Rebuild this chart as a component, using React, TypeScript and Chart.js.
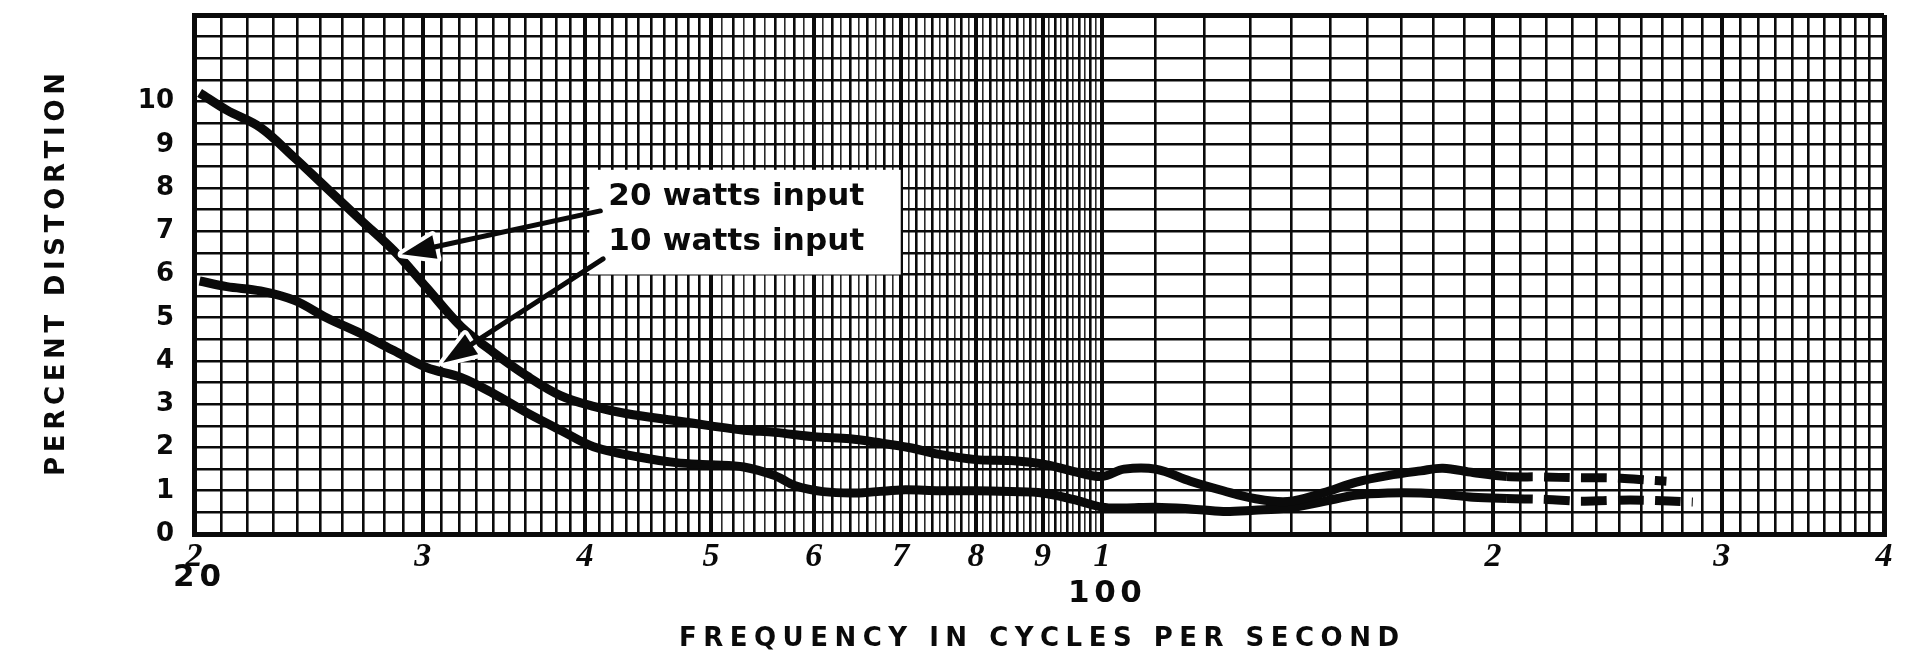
import React, { useEffect, useRef } from "react";
import { Chart, registerables } from "chart.js";

Chart.register(...registerables);

const W = 1922;
const H = 659;

// 20 watts input curve (frequency in c/s, percent distortion)
const freq20 = [20.2, 21.2, 22.5, 23.9, 25.3, 26.9, 28.5, 30.2, 32.1, 34.0, 36.1, 38.3, 40.6, 43.1, 47, 50, 53, 56, 60, 64, 67, 71, 75, 80, 85, 90, 95, 100, 104, 110, 117, 124, 131, 139, 148, 157, 166, 176, 183, 193, 205, 217, 233, 247, 262, 272];
const dist20 = [10.2, 9.8, 9.4, 8.7, 8.0, 7.25, 6.55, 5.7, 4.8, 4.2, 3.65, 3.2, 2.95, 2.78, 2.62, 2.5, 2.4, 2.35, 2.25, 2.2, 2.12, 2.0, 1.84, 1.72, 1.7, 1.62, 1.45, 1.33, 1.5, 1.5, 1.22, 1.0, 0.82, 0.75, 0.95, 1.2, 1.35, 1.46, 1.52, 1.42, 1.33, 1.32, 1.3, 1.3, 1.25, 1.22];

// 10 watts input curve
const freq10 = [20.2, 21.2, 22.5, 23.9, 25.3, 26.9, 28.5, 30.2, 32.1, 34.0, 36.1, 38.3, 40.6, 44, 47, 50, 53, 56, 58, 61, 65, 70, 75, 80, 85, 90, 95, 100, 104, 110, 117, 124, 131, 139, 148, 157, 166, 176, 183, 193, 205, 220, 233, 247, 262, 285];
const dist10 = [5.85, 5.72, 5.62, 5.4, 5.0, 4.63, 4.24, 3.85, 3.62, 3.25, 2.8, 2.4, 2.02, 1.78, 1.65, 1.6, 1.55, 1.35, 1.12, 0.98, 0.95, 1.02, 1.0, 1.0, 0.98, 0.95, 0.8, 0.62, 0.6, 0.62, 0.58, 0.52, 0.55, 0.6, 0.75, 0.9, 0.95, 0.95, 0.92, 0.85, 0.82, 0.8, 0.76, 0.78, 0.78, 0.74];

// frequency above which the curves are drawn dashed
const dashedFrom = 200;

// axis tick labels
const xMajor = [20, 30, 40, 50, 60, 70, 80, 90, 100, 200, 300, 400];
const xMajorLabels = ["2", "3", "4", "5", "6", "7", "8", "9", "1", "2", "3", "4"];
const decadeValues = [20, 100];
const decadeTexts = ["20", "100"];
const yLabelValues = [0, 1, 2, 3, 4, 5, 6, 7, 8, 9, 10];
const yLabels = ["0", "1", "2", "3", "4", "5", "6", "7", "8", "9", "10"];

const xTitle = "FREQUENCY IN CYCLES PER SECOND";
const yTitle = "PERCENT DISTORTION";

// legend box (data coordinates) and texts
const legendTexts = ["20 watts input", "10 watts input"];
const legendBoxF = [40.3, 70];
const legendBoxV = [6.0, 8.42];
const legendTextF = 52.3;
const legendTextV = [7.79, 6.75];
// arrows: [tailF, tailV, tipF, tipV]
const arrow20 = [41.1, 7.47, 28.9, 6.47];
const arrow10 = [41.3, 6.36, 31.1, 3.96];

// graph-paper rulings
const xGrid: number[] = [];
for (let f = 20; f < 50; f += 1) xGrid.push(f);
for (let f = 50; f < 100; f += 1) xGrid.push(f);
for (let f = 100; f <= 400; f += 10) xGrid.push(f);
const yGrid: number[] = [];
for (let i = 0; i <= 24; i++) yGrid.push(i * 0.5);

const INK = "#0a0a0a";
const SANS = '"DejaVu Sans", "Liberation Sans", sans-serif';

function drawSpaced(ctx: CanvasRenderingContext2D, text: string, cx: number, cy: number, target: number, font: string) {
  ctx.font = font;
  const chars = Array.from(text);
  const widths = chars.map((c) => ctx.measureText(c).width);
  const total = widths.reduce((a, b) => a + b, 0);
  const gap = chars.length > 1 ? (target - total) / (chars.length - 1) : 0;
  let x = cx - target / 2;
  ctx.textAlign = "left";
  ctx.textBaseline = "middle";
  chars.forEach((c, i) => {
    ctx.fillText(c, x, cy);
    x += widths[i] + gap;
  });
}

function drawArrow(ctx: CanvasRenderingContext2D, x1: number, y1: number, x2: number, y2: number) {
  const ang = Math.atan2(y2 - y1, x2 - x1);
  const cos = Math.cos(ang);
  const sin = Math.sin(ang);
  const len = 34;
  const half = 12;
  const bx = x2 - len * cos;
  const by = y2 - len * sin;
  const p1x = bx - half * sin;
  const p1y = by + half * cos;
  const p2x = bx + half * sin;
  const p2y = by - half * cos;
  ctx.save();
  ctx.beginPath();
  ctx.moveTo(x2, y2);
  ctx.lineTo(p1x, p1y);
  ctx.lineTo(p2x, p2y);
  ctx.closePath();
  ctx.lineWidth = 8;
  ctx.strokeStyle = "#fff";
  ctx.lineJoin = "round";
  ctx.stroke();
  ctx.beginPath();
  ctx.moveTo(x1, y1);
  ctx.lineTo(bx + 4 * cos, by + 4 * sin);
  ctx.lineWidth = 5;
  ctx.strokeStyle = INK;
  ctx.lineCap = "round";
  ctx.stroke();
  ctx.beginPath();
  ctx.moveTo(x2, y2);
  ctx.lineTo(p1x, p1y);
  ctx.lineTo(p2x, p2y);
  ctx.closePath();
  ctx.fillStyle = INK;
  ctx.fill();
  ctx.restore();
}

const annotations = {
  id: "annotations",
  beforeDatasetsDraw(chart: any) {
    const { ctx, scales } = chart;
    const x = scales.x;
    const y = scales.y;
    const l = x.getPixelForValue(legendBoxF[0]);
    const r = x.getPixelForValue(legendBoxF[1]);
    const t = y.getPixelForValue(legendBoxV[1]);
    const b = y.getPixelForValue(legendBoxV[0]);
    ctx.save();
    ctx.fillStyle = "#fff";
    ctx.fillRect(l, t, r - l, b - t);
    ctx.fillStyle = INK;
    const cx = x.getPixelForValue(legendTextF);
    legendTexts.forEach((txt, i) => {
      drawSpaced(ctx, txt, cx, y.getPixelForValue(legendTextV[i]), 256, `bold 31px ${SANS}`);
    });
    ctx.restore();
  },
  afterDraw(chart: any) {
    const { ctx, scales, chartArea } = chart;
    const x = scales.x;
    const y = scales.y;
    [arrow20, arrow10].forEach((a) => {
      drawArrow(ctx, x.getPixelForValue(a[0]), y.getPixelForValue(a[1]), x.getPixelForValue(a[2]), y.getPixelForValue(a[3]));
    });
    ctx.save();
    ctx.fillStyle = INK;
    // decade numbers under the cycle digits
    const decadeDy = [44, 60];
    const decadeW = [48, 74];
    decadeValues.forEach((v, i) => {
      drawSpaced(ctx, decadeTexts[i], x.getPixelForValue(v) + 3, chartArea.bottom + decadeDy[i], decadeW[i], `bold 31px ${SANS}`);
    });
    // x title
    drawSpaced(ctx, xTitle, (chartArea.left + chartArea.right) / 2, chart.height - 20, 720, `bold 26px ${SANS}`);
    // y title
    ctx.save();
    ctx.translate(57, (chartArea.top + chartArea.bottom) / 2);
    ctx.rotate(-Math.PI / 2);
    drawSpaced(ctx, yTitle, 0, 0, 403, `bold 26px ${SANS}`);
    ctx.restore();
    ctx.restore();
  },
};

export default function App() {
  const ref = useRef<HTMLCanvasElement | null>(null);
  useEffect(() => {
    document.body.style.margin = "0";
    document.body.style.overflow = "hidden";
    const canvas = ref.current;
    if (!canvas) return;
    const dash = (c: any) => (c.p0.parsed.x >= dashedFrom ? [26, 11] : undefined);
    const chart = new Chart(canvas, {
      type: "line",
      data: {
        datasets: [
          {
            label: legendTexts[0],
            data: freq20.map((f, i) => ({ x: f, y: dist20[i] })),
            borderColor: INK,
            borderWidth: 9,
            pointRadius: 0,
            tension: 0.35,
            fill: false,
            borderCapStyle: "butt",
            borderJoinStyle: "round",
            segment: { borderDash: dash },
          },
          {
            label: legendTexts[1],
            data: freq10.map((f, i) => ({ x: f, y: dist10[i] })),
            borderColor: INK,
            borderWidth: 9,
            pointRadius: 0,
            tension: 0.35,
            fill: false,
            borderCapStyle: "butt",
            borderJoinStyle: "round",
            segment: { borderDash: dash },
          },
        ],
      } as any,
      options: {
        responsive: false,
        animation: false,
        devicePixelRatio: 1,
        layout: { autoPadding: false, padding: { left: 0, right: 38, top: 15, bottom: 0 } },
        plugins: { legend: { display: false }, title: { display: false }, tooltip: { enabled: false } },
        scales: {
          x: {
            type: "logarithmic",
            min: 20,
            max: 400,
            afterBuildTicks: (s: any) => {
              s.ticks = xGrid.map((v) => ({ value: v }));
            },
            afterFit: (s: any) => {
              s.height = 125;
              s.paddingLeft = 0;
              s.paddingRight = 0;
              s.paddingTop = 0;
              s.paddingBottom = 0;
            },
            grid: {
              color: (c: any) => {
                const v = c.tick ? c.tick.value : 0;
                return v > 50 && v < 100 && v % 2 === 1 ? "#2a2a2a" : INK;
              },
              drawTicks: false,
              lineWidth: (c: any) => {
                const v = c.tick ? c.tick.value : 0;
                if (v === 20 || v === 400) return 5;
                if (xMajor.includes(v)) return 4;
                if (v > 50 && v < 100 && v % 2 === 1) return 1.6;
                return 2.6;
              },
            },
            border: { display: true, color: INK, width: 5 },
            ticks: {
              autoSkip: false,
              maxRotation: 0,
              minRotation: 0,
              padding: 3,
              color: INK,
              font: { family: '"Liberation Serif", "DejaVu Serif", serif', style: "italic", weight: "bold", size: 34 },
              callback: (v: any) => {
                const i = xMajor.indexOf(Number(v));
                return i >= 0 ? xMajorLabels[i] : "";
              },
            },
          },
          y: {
            type: "linear",
            min: 0,
            max: 12,
            afterBuildTicks: (s: any) => {
              s.ticks = yGrid.map((v) => ({ value: v }));
            },
            afterFit: (s: any) => {
              s.width = 194;
              s.paddingLeft = 0;
              s.paddingRight = 0;
              s.paddingTop = 0;
              s.paddingBottom = 0;
            },
            grid: {
              color: INK,
              drawTicks: false,
              lineWidth: (c: any) => {
                const v = c.tick ? c.tick.value : 0;
                if (v === 0 || v === 12) return 5;
                return 2.6;
              },
            },
            border: { display: true, color: INK, width: 5 },
            ticks: {
              autoSkip: false,
              padding: 20,
              color: INK,
              font: { family: SANS, weight: "bold", size: 26 },
              callback: (v: any) => {
                const i = yLabelValues.indexOf(Number(v));
                return i >= 0 ? yLabels[i] : "";
              },
            },
          },
        },
      } as any,
      plugins: [annotations],
    });
    return () => chart.destroy();
  }, []);
  return (
    <div style={{ width: W, height: H, background: "#fff" }}>
      <canvas ref={ref} width={W} height={H} style={{ display: "block", width: W, height: H }} />
    </div>
  );
}
